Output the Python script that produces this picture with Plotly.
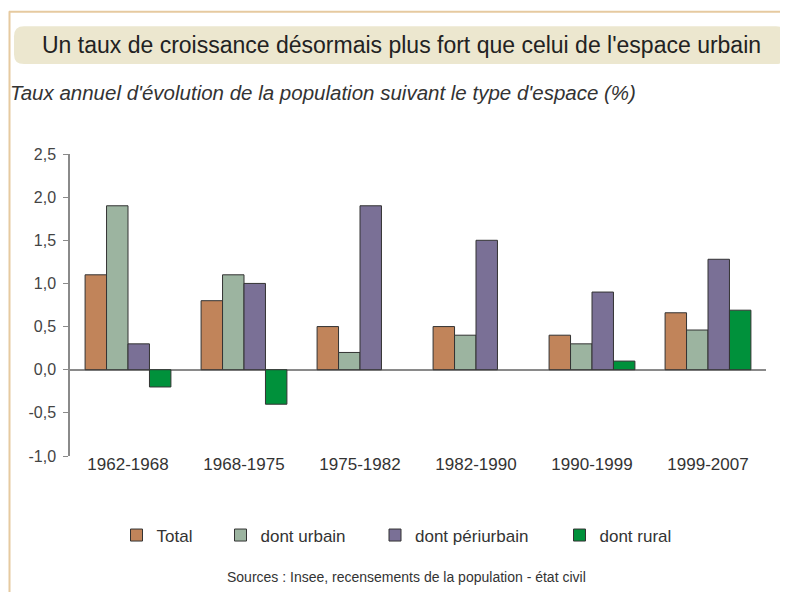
import plotly.graph_objects as go

categories = ["1962-1968", "1968-1975", "1975-1982", "1982-1990", "1990-1999", "1999-2007"]
total = [1.1, 0.8, 0.5, 0.5, 0.4, 0.66]
urbain = [1.9, 1.1, 0.2, 0.4, 0.3, 0.46]
periurbain = [0.3, 1.0, 1.9, 1.5, 0.9, 1.28]
rural = [-0.2, -0.4, None, None, 0.1, 0.69]
series_names = ["Total", "dont urbain", "dont périurbain", "dont rural"]
series_colors = ["#c1845a", "#9cb4a0", "#7a7096", "#00913b"]
y_tickvals = [-1.0, -0.5, 0.0, 0.5, 1.0, 1.5, 2.0, 2.5]
y_ticktext = ["-1,0", "-0,5", "0,0", "0,5", "1,0", "1,5", "2,0", "2,5"]

title_text = "Un taux de croissance désormais plus fort que celui de l'espace urbain"
subtitle_text = "Taux annuel d'évolution de la population suivant le type d'espace (%)"
source_text = "Sources : Insee, recensements de la population - état civil"

# page offset (body margin) = 8px
OFF = 8
W, H = 788 - OFF, 592 - OFF
# plot area in page coordinates: x 70..766, y 154..456.4
PL, PR, PT, PB = 70, 766, 154, 456.4
L, T = PL - OFF, PT - OFF
R = W - (PR - OFF)
B = H - (PB - OFF)
PW, PH = PR - PL, PB - PT

def px(x):  # page x -> paper
    return (x - PL) / PW

def py(y):  # page y -> paper
    return (PB - y) / PH

FONT = "Liberation Sans, Arial, sans-serif"

fig = go.Figure()
for i, (name, vals, col) in enumerate(zip(series_names, [total, urbain, periurbain, rural], series_colors)):
    lg = "legend" if i == 0 else f"legend{i+1}"
    fig.add_trace(go.Bar(
        x=categories, y=vals, name=name, marker_color=col,
        marker_line_color="#333333", marker_line_width=1,
        legend=lg, showlegend=True,
    ))

# swatch centres in page px
swatch_centres = [137.5, 241.5, 396, 580.5]
legend_common = dict(
    orientation="h", yanchor="middle", y=py(536), xanchor="left",
    font=dict(family=FONT, size=17, color="#333333"),
    bgcolor="rgba(0,0,0,0)", borderwidth=0, itemwidth=30,
)
layout_legends = {}
for i, c in enumerate(swatch_centres):
    key = "legend" if i == 0 else f"legend{i+1}"
    layout_legends[key] = dict(legend_common, x=px(c - 21))

shapes = [
    dict(type="line", xref="paper", yref="paper", x0=px(9.5), x1=px(9.5), y0=py(11), y1=py(600),
         line=dict(color="#e6caa0", width=2), layer="below"),
    dict(type="line", xref="paper", yref="paper", x0=px(9), x1=px(800), y0=py(11.5), y1=py(11.5),
         line=dict(color="#e6caa0", width=2), layer="below"),
]
x0b, x1b, y0b, y1b, r = 14, 786, 26, 64, 10
path = (f"M {px(x0b + r)},{py(y0b)} L {px(x1b - r)},{py(y0b)} Q {px(x1b)},{py(y0b)} {px(x1b)},{py(y0b + r)} "
        f"L {px(x1b)},{py(y1b - r)} Q {px(x1b)},{py(y1b)} {px(x1b - r)},{py(y1b)} "
        f"L {px(x0b + r)},{py(y1b)} Q {px(x0b)},{py(y1b)} {px(x0b)},{py(y1b - r)} "
        f"L {px(x0b)},{py(y0b + r)} Q {px(x0b)},{py(y0b)} {px(x0b + r)},{py(y0b)} Z")
shapes.append(dict(type="path", xref="paper", yref="paper", path=path,
                   fillcolor="#ece7cf", line=dict(width=0), layer="below"))

annotations = [
    dict(text=title_text, xref="paper", yref="paper", x=px(401), y=py(45), xanchor="center", yanchor="middle",
         showarrow=False, font=dict(family=FONT, size=23, color="#222222")),
    dict(text=f"<i>{subtitle_text}</i>", xref="paper", yref="paper", x=px(8), y=py(92), xanchor="left",
         yanchor="middle", showarrow=False, font=dict(family=FONT, size=20.5, color="#333333")),
    dict(text=source_text, xref="paper", yref="paper", x=px(406), y=py(578), xanchor="center", yanchor="middle",
         showarrow=False, font=dict(family=FONT, size=14, color="#333333")),
]

fig.update_layout(
    width=W, height=H, margin=dict(l=L, r=R, t=T, b=B, autoexpand=False),
    paper_bgcolor="white", plot_bgcolor="white",
    barmode="group", bargap=0.26, bargroupgap=0,
    shapes=shapes, annotations=annotations,
    **layout_legends,
)
fig.update_xaxes(showline=False, showgrid=False, ticks="", zeroline=False,
                 tickfont=dict(family=FONT, size=17, color="#333333"), ticklabelstandoff=-4)
fig.update_yaxes(range=[-1, 2.5], tickvals=y_tickvals, ticktext=y_ticktext, showgrid=False,
                 showline=True, linecolor="#8a8a8a", linewidth=1.5, ticks="outside", ticklen=5,
                 tickcolor="#8a8a8a", zeroline=True, zerolinecolor="#8a8a8a", zerolinewidth=1.5,
                 ticklabelstandoff=4,
                 tickfont=dict(family=FONT, size=16, color="#444444"))
fig.write_html("out.html")
